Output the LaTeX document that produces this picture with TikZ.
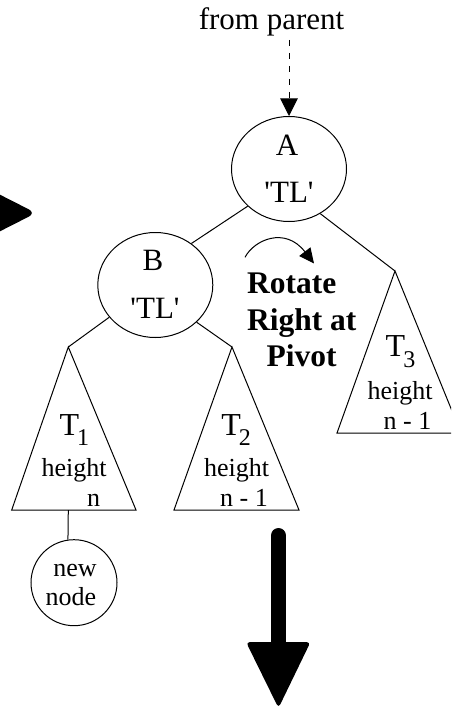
\documentclass[tikz,border=0pt]{standalone}
\usepackage{fontspec}
\setmainfont{Liberation Serif}
\usetikzlibrary{shapes.geometric,arrows.meta}

\tikzset{
  thin line/.style={line width=1pt},
  oval/.style={ellipse, draw, line width=1pt, minimum width=115pt, minimum height=105pt, inner sep=0pt},
  leaf/.style={circle, draw, line width=1pt, minimum size=86pt, inner sep=0pt},
  lbl/.style={anchor=base, inner sep=0pt, font=\fontsize{31}{37}\selectfont},
  tname/.style={anchor=base west, inner sep=0pt, font=\fontsize{32}{38}\selectfont},
  small/.style={anchor=base, inner sep=0pt, font=\fontsize{26}{31}\selectfont},
  boldlbl/.style={anchor=base, inner sep=0pt, font=\bfseries\fontsize{31.5}{37}\selectfont},
  bigarrow/.style={fill=black, rounded corners=4pt},
}
\newcommand{\tsub}[1]{\kern-2pt\raisebox{-10.5pt}{\fontsize{24}{24}\selectfont #1}}
\newcommand{\tl}{\textquotesingle TL\textquotesingle}

\begin{document}
\begin{tikzpicture}[x=1pt,y=-1pt]
\useasboundingbox (0,0) rectangle (451,706);
\clip (0,0) rectangle (451,706);

% header and incoming pointer
\node[lbl] (fp) at (271.5,29.3) {from parent};
\coordinate (fpend) at (289,40);

% the two rotated nodes
\node[oval] (A) at (289,169) {};
\node[lbl] (Alab) at (287,155) {A};
\node[lbl] (Atl) at (289,202) {\tl};

\node[oval] (B) at (155.3,285) {};
\node[lbl] (Blab) at (153,270) {B};
\node[lbl] (Btl) at (155,318) {\tl};

\draw[thin line, dash pattern=on 6pt off 7pt,
      -{Triangle[length=17.7pt,width=17.7pt]}] (fpend) -- (A.north);

% subtrees
\coordinate (T1top) at (68.3,347);
\coordinate (T2top) at (232,347);
\coordinate (T3top) at (395,271);
\draw[thin line] (T1top) -- (11.7,510) -- (136,510) -- cycle;
\draw[thin line] (T2top) -- (174,510) -- (299,510) -- cycle;
\draw[thin line] (T3top) -- (337,433) -- (461,433) -- cycle;

\node[tname] (T1) at (59.5,435) {T\tsub{1}};
\node[small] (T1h) at (74,476.7) {height};
\node[small] (T1n) at (93.7,506.7) {n};

\node[tname] (T2) at (221.2,435) {T\tsub{2}};
\node[small] (T2h) at (236.5,476.7) {height};
\node[small] (T2n) at (244,506.7) {n - 1};

\node[tname] (T3) at (385.5,356.7) {T\tsub{3}};
\node[small] (T3h) at (400,399.3) {height};
\node[small] (T3n) at (407.5,429.3) {n - 1};

% inserted leaf
\node[leaf] (N) at (74,582.7) {};
\node[small] (Nl1) at (75,576.7) {new};
\node[small] (Nl2) at (71,605) {node};
\coordinate (T1bot) at (68.3,510);

% edges
\draw[thin line] (A.222) -- (B.49);
\draw[thin line] (A.305) -- (T3top);
\draw[thin line] (B.215) -- (T1top);
\draw[thin line] (B.318) -- (T2top);
\draw[thin line] (T1bot) -- (N.98);

% rotation hint
\coordinate (rotS) at (245,257.3);
\coordinate (rotE) at (314,263.5);
\draw[thin line, -{Triangle[length=15pt,width=14pt]}]
  (rotS) .. controls (254,240) and (285,226) .. (rotE);
\node[boldlbl] (r1) at (291.7,293.3) {Rotate};
\node[boldlbl] (r2) at (301.7,330) {Right at};
\node[boldlbl] (r3) at (301.7,366.7) {Pivot};

% large arrows
\coordinate (dtop) at (278.5,535.5);
\coordinate (dmid) at (278.5,650);
\draw[line width=15pt, line cap=round] (dtop) -- (dmid);
\fill[bigarrow] (246,642) -- (310.5,642) -- (278.5,708) -- cycle;
\fill[fill=black, rounded corners=8pt] (-27,181) -- (36,213) -- (-27,245) -- cycle;
\end{tikzpicture}
\end{document}
